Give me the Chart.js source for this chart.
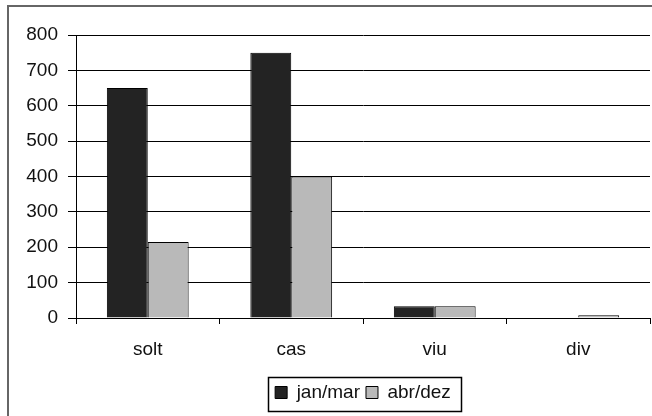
<!DOCTYPE html>
<html>
<head>
<meta charset="utf-8">
<script src="https://cdn.jsdelivr.net/npm/chart.js@4/dist/chart.umd.min.js"></script>
<style>
  html, body { margin: 0; padding: 0; background: #fff; }
  #wrap { position: relative; width: 652px; height: 416px; overflow: hidden; }
  #frame { position: absolute; left: 7px; top: 5px; width: 700px; height: 450px; border: 2px solid #666; box-sizing: border-box; }
  canvas { position: absolute; left: 0; top: 0; }
</style>
</head>
<body>
<div id="wrap">
  <div id="frame"></div>
  <canvas id="chart" width="652" height="416"></canvas>
</div>
<script>
const categories = ['solt', 'cas', 'viu', 'div'];
const janMar = [650, 750, 33, 0];
const abrDez = [215, 400, 33, 8];
const seriesNames = ['jan/mar', 'abr/dez'];

const FONT = { family: 'Liberation Sans, Arial', size: 19 };

// center legend under the plot area and frame it
const legendBox = {
    id: 'legendBox',
    afterLayout(chart) {
        const lg = chart.legend;
        const area = chart.chartArea;
        const shift = (area.left + area.right) / 2 - (lg.left + lg.right) / 2;
        lg.left += shift;
        lg.right += shift;
    },
    afterDraw(chart) {
        const lg = chart.legend;
        if (!lg || !lg.legendHitBoxes.length) return;
        const first = lg.legendHitBoxes[0];
        const last = lg.legendHitBoxes[lg.legendHitBoxes.length - 1];
        const x0 = Math.round(first.left) - 6.5;
        const x1 = Math.round(last.left + last.width) + 10.5;
        const y0 = Math.round(lg.top) + 0.5;
        const y1 = Math.round(lg.bottom) - 0.5;
        const c = chart.ctx;
        c.save();
        c.strokeStyle = '#000';
        c.lineWidth = 1.5;
        c.strokeRect(x0, y0, x1 - x0, y1 - y0);
        c.restore();
    }
};

const ctx = document.getElementById('chart').getContext('2d');
new Chart(ctx, {
    type: 'bar',
    data: {
        labels: categories,
        datasets: [{
            label: seriesNames[0],
            data: janMar,
            backgroundColor: '#232323',
            borderColor: '#000',
            borderWidth: 1,
            categoryPercentage: 0.57,
            barPercentage: 1
        }, {
            label: seriesNames[1],
            data: abrDez,
            backgroundColor: '#b9b9b9',
            borderColor: '#000',
            borderWidth: 1,
            categoryPercentage: 0.57,
            barPercentage: 1
        }]
    },
    options: {
        responsive: false,
        animation: false,
        layout: { padding: { left: 0, right: 2, top: 35, bottom: 4 } },
        plugins: {
            tooltip: { enabled: false },
            legend: {
                position: 'bottom',
                labels: {
                    color: '#111',
                    font: FONT,
                    boxWidth: 12,
                    boxHeight: 12,
                    padding: 6
                }
            }
        },
        scales: {
            y: {
                min: 0,
                max: 800,
                ticks: { stepSize: 100, color: '#111', padding: 10, font: FONT },
                grid: { color: '#000', lineWidth: 1, tickLength: 8 },
                border: { color: '#000', width: 1 },
                afterFit(s) { s.width = 76; }
            },
            x: {
                ticks: { color: '#111', padding: 14, font: FONT },
                grid: { display: true, drawOnChartArea: false, offset: true, color: '#000', tickLength: 6 },
                border: { color: '#000', width: 1 },
                afterFit(s) { s.height = 59; }
            }
        }
    },
    plugins: [legendBox]
});
</script>
</body>
</html>
